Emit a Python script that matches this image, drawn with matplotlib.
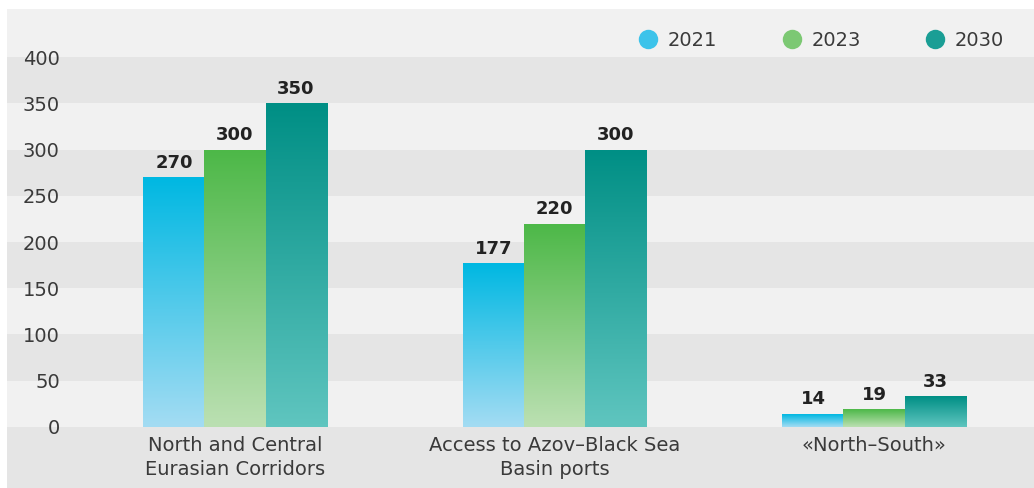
import numpy as np
import matplotlib
matplotlib.use('Agg')
import matplotlib.pyplot as plt
from matplotlib.colors import LinearSegmentedColormap
from matplotlib.lines import Line2D

plt.rcParams['font.family'] = ['DejaVu Sans']

categories = ['North and Central\nEurasian Corridors',
              'Access to Azov–Black Sea\nBasin ports',
              '«North–South»']
years = ['2021', '2023', '2030']
v2021 = [270, 177, 14]
v2023 = [300, 220, 19]
v2030 = [350, 300, 33]
yticks = [0, 50, 100, 150, 200, 250, 300, 350, 400]

# top colour, bottom colour of each gradient
grads = [('#00b8e2', '#a3dcf3'), ('#4db848', '#bbe0b2'), ('#008f85', '#5fc5bf')]
legend_cols = ['#3cc3ea', '#7cc873', '#1a9e95']

light, dark = '#f1f1f1', '#e5e5e5'
txt = '#3a3a3a'

fig = plt.figure(figsize=(10.34, 4.88), dpi=100)
fig.patch.set_facecolor('white')
ax = fig.add_axes([7 / 1034, 0, 1027 / 1034, 479 / 488])
ax.set_facecolor(light)

# striped background
ax.axhspan(-66, 0, color=dark, lw=0, zorder=0)
for lo in range(50, 400, 100):
    ax.axhspan(lo, lo + 50, color=dark, lw=0, zorder=0)

x = np.arange(len(categories))
w = 0.191
series = [v2021, v2023, v2030]
for i, vals in enumerate(series):
    bars = ax.bar(x + (i - 1) * w, vals, w, facecolor='none', edgecolor='none', zorder=2)
    cmap = LinearSegmentedColormap.from_list('g%d' % i, [grads[i][1], grads[i][0]])
    for b, v in zip(bars, vals):
        x0, y0 = b.get_x(), b.get_y()
        im = ax.imshow(np.linspace(0, 1, 100).reshape(-1, 1), cmap=cmap, origin='lower',
                       extent=[x0, x0 + b.get_width(), y0, y0 + b.get_height()],
                       aspect='auto', zorder=2, interpolation='bicubic')
        im.set_clip_path(b)
        ax.annotate(str(v), (x0 + b.get_width() / 2, v), xytext=(0, 4),
                    textcoords='offset points', ha='center', va='bottom',
                    fontsize=13, fontweight='bold', color='#222222', zorder=3)

ax.set_xlim(-0.7136, 2.5008)
ax.set_ylim(-66, 452)

ax.set_yticks(yticks)
ax.set_yticklabels([str(t) for t in yticks])
ax.tick_params(axis='y', length=0, pad=-38, labelsize=14, labelcolor=txt)
ax.set_xticks([])
for s in ax.spines.values():
    s.set_visible(False)

for xi, c in zip(x, categories):
    ax.text(xi, -10, c, ha='center', va='top', fontsize=14, color=txt,
            linespacing=1.35)

handles = [Line2D([], [], marker='o', ls='none', markersize=14, color=c, markeredgewidth=0)
           for c in legend_cols]
ax.legend(handles, years, ncol=3, loc='upper right', bbox_to_anchor=(0.988, 0.99),
          frameon=False, fontsize=14, handlelength=1.0, handletextpad=0.5,
          columnspacing=3.35, labelcolor=txt)

fig.savefig('out.png', dpi=100)
